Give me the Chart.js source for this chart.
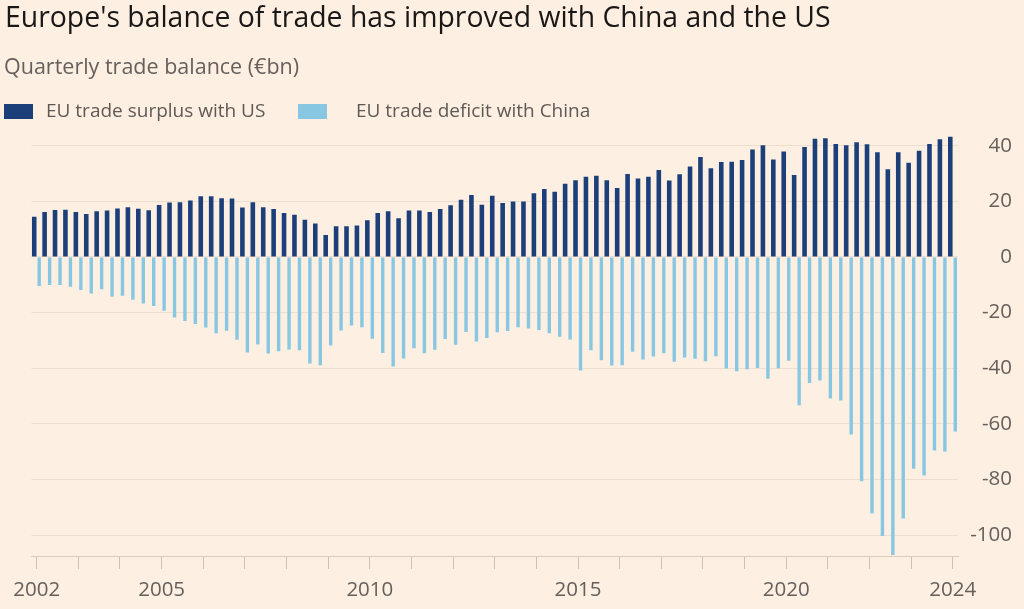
<!DOCTYPE html>
<html>
<head>
<meta charset="utf-8">
<script src="https://cdn.jsdelivr.net/npm/chart.js@4.4.1/dist/chart.umd.min.js"></script>
<style>
  html, body { margin: 0; padding: 0; background: #fdefe2; }
  #wrap { position: relative; width: 1024px; height: 609px; overflow: hidden; background: #fdefe2; font-family: "Open Sans", sans-serif; }
  #wrap canvas { position: absolute; left: 0; top: 0; }
  .txt { position: absolute; white-space: nowrap; }
  #title { left: 5px; top: 2.1px; font-size: 28.4px; line-height: 28.4px; color: #1a1817; }
  #subtitle { left: 4px; top: 54.9px; font-size: 21.5px; line-height: 21.5px; color: #66605c; }
  .lg { position: absolute; top: 101.4px; font-size: 19px; line-height: 19px; color: #5f5955; }
  .sw { position: absolute; width: 29px; height: 15px; top: 104px; }
</style>
</head>
<body>
<div id="wrap">
  <canvas id="c" width="1024" height="609"></canvas>
  <div class="txt" id="title">Europe's balance of trade has improved with China and the US</div>
  <div class="txt" id="subtitle">Quarterly trade balance (€bn)</div>
  <div class="sw" id="sw1" style="left:4px;"></div>
  <div class="lg txt" id="lg1" style="left:46px;"></div>
  <div class="sw" id="sw2" style="left:298px;"></div>
  <div class="lg txt" id="lg2" style="left:356px;"></div>
</div>
<script>
// ---- data ----
const startYear = 2002;
const quarterCount = 89; // 2002 Q1 .. 2024 Q1
const quarters = [];
for (let i = 0; i < quarterCount; i++) {
  quarters.push((startYear + Math.floor(i / 4)) + ' Q' + (i % 4 + 1));
}
const labeledYears = ['2002', '2005', '2010', '2015', '2020', '2024'];
const seriesNames = ['EU trade surplus with US', 'EU trade deficit with China'];
const surplusUS = [
  14.5, 16.2, 16.9, 17.0, 16.2, 15.4, 16.4, 16.7, 17.4, 17.9, 17.3, 16.8,
  18.7, 19.6, 19.7, 20.3, 21.8, 21.8, 21.1, 21.0, 17.8, 19.7, 17.9,
  17.2, 15.8, 15.2, 13.4, 12.0, 7.9, 11.0, 11.0, 11.3, 13.2, 15.8, 16.4,
  13.9, 16.7, 16.7, 16.2, 17.2, 18.6, 20.6, 22.3, 18.8, 22.0, 19.4,
  19.9, 19.9, 22.9, 24.4, 23.4, 26.3, 27.6, 28.8, 29.2, 27.6, 24.8,
  29.8, 28.2, 28.8, 31.3, 27.5, 29.7, 32.5, 35.9, 31.9, 34.1, 34.2,
  34.9, 38.6, 40.2, 35.0, 37.9, 29.5, 39.5, 42.5, 42.7, 40.6, 40.2,
  41.2, 40.5, 37.6, 31.5, 37.6, 33.9, 38.2, 40.6, 42.3, 43.2
];
const deficitChina = [
  -10.4, -10.1, -10.1, -10.7, -11.9, -13.1, -11.6, -14.3, -13.9, -15.4, -16.7, -17.6,
  -19.3, -21.8, -23.0, -24.1, -25.4, -27.4, -26.5, -29.8, -34.3, -31.5, -34.7,
  -33.9, -33.3, -33.5, -38.3, -38.9, -31.8, -26.4, -24.6, -25.3, -29.4, -34.5, -39.4,
  -36.5, -32.8, -34.6, -33.4, -29.5, -31.6, -27.0, -30.4, -29.1, -27.1, -26.6,
  -25.3, -25.7, -26.3, -27.4, -28.7, -29.7, -40.8, -33.5, -37.1, -39.0, -38.9,
  -34.1, -36.9, -35.8, -34.6, -37.7, -36.1, -36.6, -37.5, -35.7, -40.1, -41.1,
  -40.4, -39.9, -43.8, -40.0, -37.3, -53.3, -45.3, -44.4, -50.9, -51.6, -63.8,
  -80.6, -92.2, -100.3, -107.1, -94.0, -76.1, -78.6, -69.6, -69.9, -62.7
];
const yTicks = [40, 20, 0, -20, -40, -60, -80, -100];

// ---- style ----
const darkBlue = '#1c3f7a';
const lightBlue = '#88c7e2';
const gridColor = '#efddd0';
const tickTextColor = '#66605c';

document.getElementById('lg1').textContent = seriesNames[0];
document.getElementById('lg2').textContent = seriesNames[1];
document.getElementById('sw1').style.background = darkBlue;
document.getElementById('sw2').style.background = lightBlue;

new Chart(document.getElementById('c'), {
  type: 'bar',
  data: {
    labels: quarters,
    datasets: [
      { label: seriesNames[0], data: surplusUS, backgroundColor: darkBlue,
        barPercentage: 0.92, categoryPercentage: 0.96, borderWidth: 0 },
      { label: seriesNames[1], data: deficitChina, backgroundColor: lightBlue,
        barPercentage: 0.68, categoryPercentage: 0.96, borderWidth: 0 }
    ]
  },
  options: {
    responsive: false,
    animation: false,
    devicePixelRatio: 1,
    layout: { padding: { left: 31.5, right: 12, top: 129, bottom: 0 } },
    plugins: { legend: { display: false }, tooltip: { enabled: false }, title: { display: false } },
    scales: {
      x: {
        type: 'category',
        offset: true,
        grid: {
          display: true,
          offset: false,
          drawOnChartArea: false,
          drawTicks: true,
          tickLength: 13,
          tickWidth: 1,
          tickColor: (ctx) => (ctx.index % 4 === 0 ? '#cfc3b9' : 'rgba(0,0,0,0)')
        },
        border: { display: true, color: '#d9ccc2', width: 1 },
        ticks: {
          autoSkip: false,
          maxRotation: 0,
          minRotation: 0,
          padding: 9,
          color: tickTextColor,
          font: { family: 'Open Sans', size: 20.5 },
          callback: function (val, idx) {
            const lab = quarters[idx];
            const yr = lab.slice(0, 4);
            return (lab.endsWith('Q1') && labeledYears.includes(yr)) ? yr : '';
          }
        },
        afterFit: (scale) => { scale.height = 53; }
      },
      y: {
        position: 'right',
        min: -107.5,
        max: 46,
        grid: { color: gridColor, lineWidth: 1, drawTicks: false },
        border: { display: false },
        afterBuildTicks: (scale) => { scale.ticks = yTicks.map(v => ({ value: v })); },
        ticks: {
          crossAlign: 'far',
          padding: 11,
          color: tickTextColor,
          font: { family: 'Open Sans', size: 20.5 }
        },
        afterFit: (scale) => { scale.width = 54; }
      }
    }
  }
});
</script>
</body>
</html>
